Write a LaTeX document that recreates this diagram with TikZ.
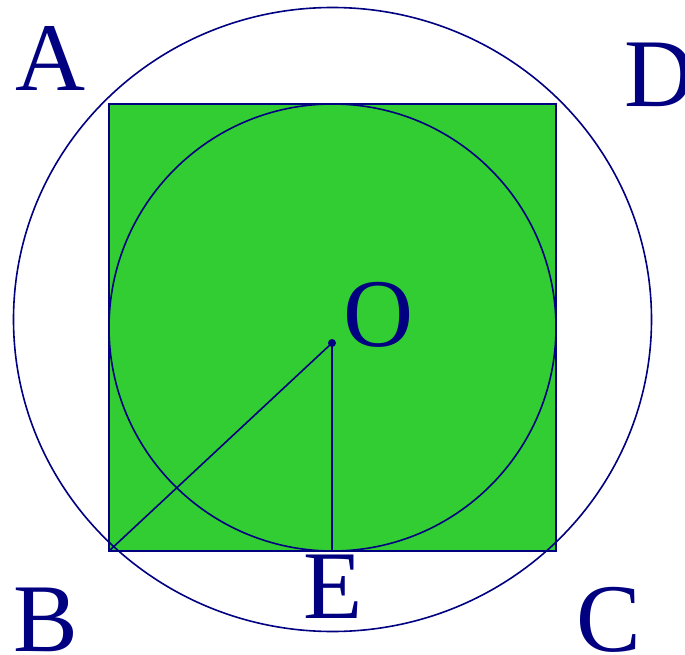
\documentclass[tikz,border=0pt]{standalone}
\usepackage{fontspec}
\setmainfont{Liberation Serif}
\definecolor{navy}{RGB}{0,0,128}
\definecolor{limegr}{RGB}{50,205,50}
\tikzset{
  lbl/.style={text=navy,inner sep=0pt,anchor=base,font=\fontsize{97}{97}\selectfont},
  edge/.style={draw=navy,line width=1.6pt}
}
\begin{document}
\begin{tikzpicture}[x=1pt,y=-1pt]
\useasboundingbox (0,0) rectangle (685,655);
% ctverec ABCD a kruznice vepsana / opsana
\coordinate (A) at (109,104);
\coordinate (C) at (556,551);
\coordinate (B) at (109,551);
\coordinate (O) at (332,343);
\coordinate (E) at (332,551);
\filldraw[fill=limegr,draw=navy,line width=2.2pt] (A) rectangle (C);
\draw[edge] (332.5,327.5) circle (223.5);
\draw[edge] (332.5,319.5) ellipse [x radius=319, y radius=312];
% usecky BO a OE
\draw[edge] (B) -- (O) -- (E);
\fill[navy] (O) circle (4);
% popisky
\node[lbl] (lA) at (50.5,91) {A};
\node[lbl,anchor=base west] (lD) at (624,107) {D};
\node[lbl] (lB) at (46,651) {B};
\node[lbl] (lC) at (608.5,651) {C};
\node[lbl] (lE) at (333,618) {E};
\node[lbl] (lO) at (378.5,346) {O};
\end{tikzpicture}
\end{document}
